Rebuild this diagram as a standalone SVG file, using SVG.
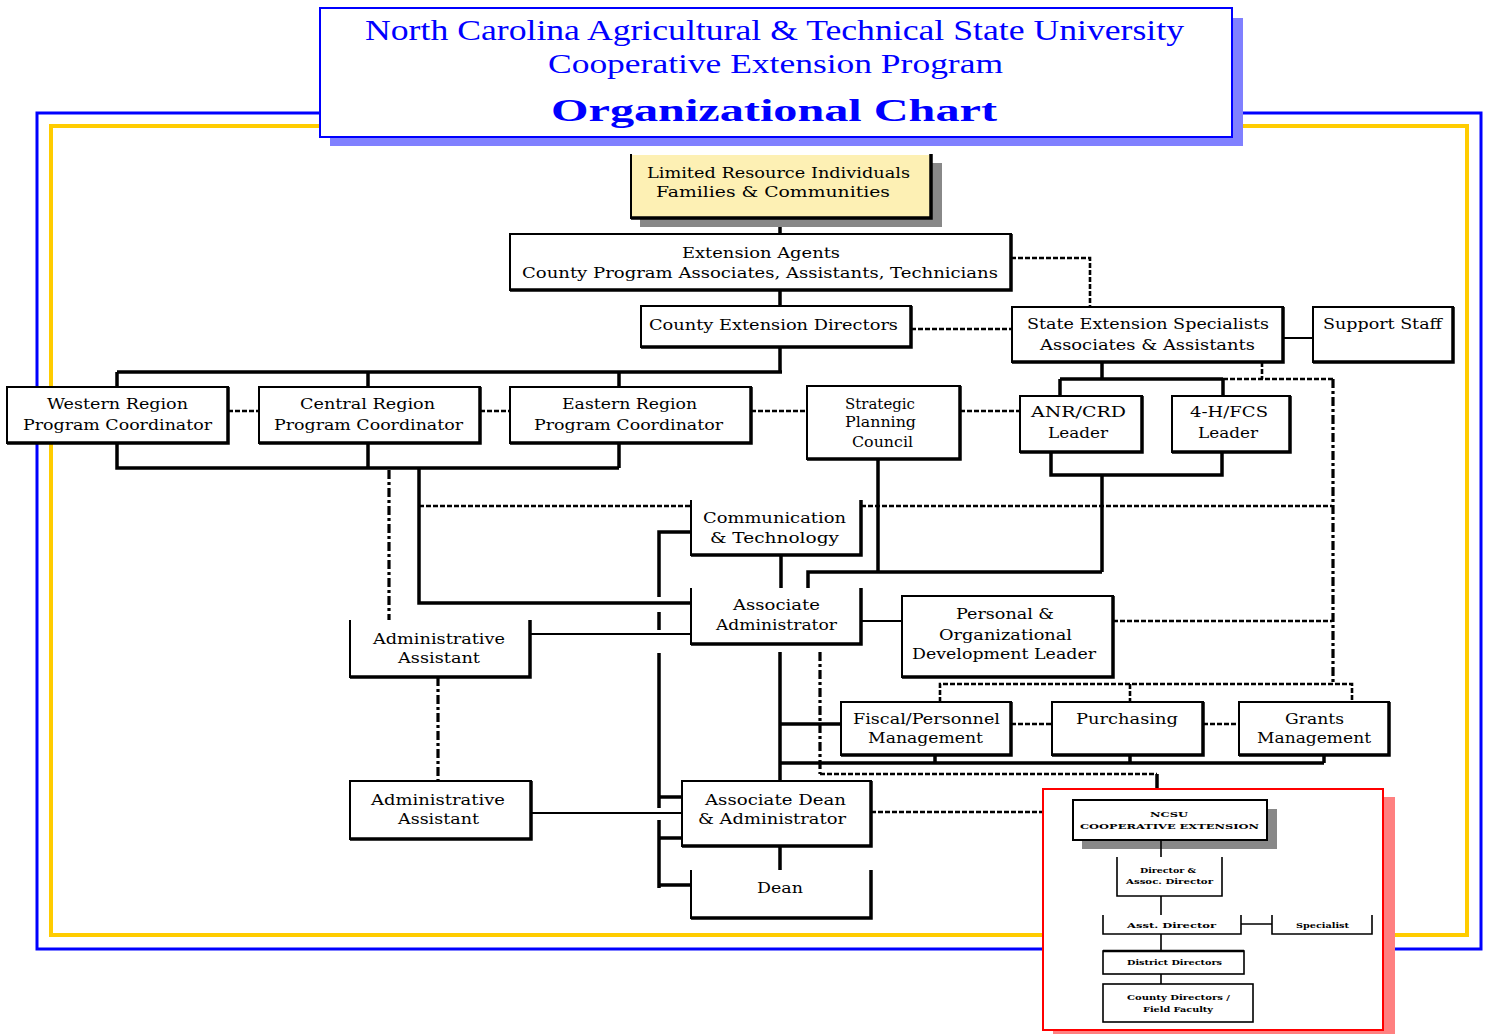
<svg xmlns="http://www.w3.org/2000/svg" width="1489" height="1034" viewBox="0 0 1489 1034">
<style>
.b{fill:#fff;stroke:#000;stroke-width:2}
.w{fill:#fff;stroke:none}
.e{fill:none;stroke:#000;stroke-width:2}
.bs{fill:none;stroke:#000;stroke-width:3.5}
.s{fill:none;stroke:#000;stroke-width:3.5}
.t{fill:none;stroke:#000;stroke-width:2.2}
.d{fill:none;stroke:#000;stroke-width:2.6;stroke-dasharray:5 2}
.dd{fill:none;stroke:#000;stroke-width:3.2;stroke-dasharray:9 3 3 3}
.tx{font-family:"DejaVu Serif","Liberation Serif",serif;font-size:15px;fill:#000}
.ttl{font-family:"Liberation Serif","Times New Roman",serif;fill:#0000FF}
.it{font-family:"DejaVu Serif","Liberation Serif",serif;font-size:8px;font-weight:bold;fill:#000}
.ie{fill:none;stroke:#000;stroke-width:1.6}
</style>
<rect width="1489" height="1034" fill="#fff"/>
<g id="frames">
<rect x="37" y="113" width="1444" height="836" fill="none" stroke="#0000FF" stroke-width="3"/>
<rect x="51" y="126" width="1416" height="809" fill="none" stroke="#FFCC00" stroke-width="4"/>
</g>
<g id="title">
<rect x="330" y="18" width="913" height="128" fill="#8080FF"/>
<rect x="320" y="8" width="912" height="129" fill="#fff" stroke="#0000FF" stroke-width="2"/>
<text class="ttl" x="365" y="40" font-size="30" textLength="819" lengthAdjust="spacingAndGlyphs">North Carolina Agricultural &amp; Technical State University</text>
<text class="ttl" x="548" y="73" font-size="28" textLength="455" lengthAdjust="spacingAndGlyphs">Cooperative Extension Program</text>
<text class="ttl" x="551" y="121" font-size="31" font-weight="bold" textLength="446" lengthAdjust="spacingAndGlyphs">Organizational Chart</text>
</g>
<g id="connectors">
<path class="s" d="M780 218V234M780 290V306M780 347V372M117 372H782M117 372V387M368 372V387M619 372V387"/>
<path class="s" d="M117 443V468H619M368 443V468M619 443V468"/>
<path class="s" d="M419 468V603H691"/>
<path class="s" d="M878 459V572M808 588V572H1102M1102 362V379M1060 379H1223M1060 379V396M1223 379V396"/>
<path class="s" d="M1051 452V475H1222V452M1102 475V572"/>
<path class="s" d="M781 555V588"/>
<path class="s" d="M691 532H659V597M659 612V630M659 653V808M659 820V888M659 797H682M659 838H682M659 885H691"/>
<path class="s" d="M780 652V781M780 724H841M780 763H1324M935 755V763M1130 755V763M1324 755V763M780 846V870"/>
<path class="s" d="M1157 774V789"/>
<path class="t" d="M1283 338H1313M530 634H691M531 813H682M861 621H902"/>
<path class="d" d="M1011 258H1090V307M911 329H1012M228 411H259M480 411H510M751 411H807M960 411H1020"/>
<path class="d" d="M1262 362V379M1223 379H1333M419 506H691M861 506H1332M1113 621H1332"/>
<path class="d" d="M940 702V684H1352V702M1130 684V702M1011 724H1052M1203 724H1239M871 812H1043M820 774H1157"/>
<path class="dd" d="M1333 379V684M389 470V620M438 677V781M820 652V774"/>
</g>
<g id="limited-resource">
<rect x="640" y="163" width="302" height="64" fill="#888"/>
<rect x="631" y="155" width="300" height="63" fill="#FDF0B4"/>
<path class="e" d="M631 154V218H931V154"/>
<path class="bs" d="M931 154V218H631"/>
<text class="tx" x="647" y="178" textLength="263" lengthAdjust="spacingAndGlyphs">Limited Resource Individuals</text>
<text class="tx" x="656" y="197" textLength="234" lengthAdjust="spacingAndGlyphs">Families &amp; Communities</text>
</g>
<g id="extension-agents">
<rect class="b" x="510" y="234" width="501" height="56"/>
<path class="bs" d="M1011 234V290H510"/>
<text class="tx" x="682" y="258" textLength="158" lengthAdjust="spacingAndGlyphs">Extension Agents</text>
<text class="tx" x="522" y="278" textLength="476" lengthAdjust="spacingAndGlyphs">County Program  Associates, Assistants, Technicians</text>
</g>
<g id="county-directors">
<rect class="b" x="641" y="306" width="270" height="41"/>
<path class="bs" d="M911 306V347H641"/>
<text class="tx" x="649" y="330" textLength="249" lengthAdjust="spacingAndGlyphs">County Extension Directors</text>
</g>
<g id="state-specialists">
<rect class="b" x="1012" y="307" width="271" height="55"/>
<path class="bs" d="M1283 307V362H1012"/>
<text class="tx" x="1027" y="329" textLength="242" lengthAdjust="spacingAndGlyphs">State Extension Specialists</text>
<text class="tx" x="1040" y="350" textLength="215" lengthAdjust="spacingAndGlyphs">Associates &amp; Assistants</text>
</g>
<g id="support-staff">
<rect class="b" x="1313" y="307" width="140" height="55"/>
<path class="bs" d="M1453 307V362H1313"/>
<text class="tx" x="1323" y="329" textLength="119" lengthAdjust="spacingAndGlyphs">Support Staff</text>
</g>
<g id="western-region">
<rect class="b" x="7" y="387" width="221" height="56"/>
<path class="bs" d="M228 387V443H7"/>
<text class="tx" x="47" y="409" textLength="141" lengthAdjust="spacingAndGlyphs">Western Region</text>
<text class="tx" x="23" y="430" textLength="189" lengthAdjust="spacingAndGlyphs">Program Coordinator</text>
</g>
<g id="central-region">
<rect class="b" x="259" y="387" width="221" height="56"/>
<path class="bs" d="M480 387V443H259"/>
<text class="tx" x="300" y="409" textLength="135" lengthAdjust="spacingAndGlyphs">Central Region</text>
<text class="tx" x="274" y="430" textLength="189" lengthAdjust="spacingAndGlyphs">Program Coordinator</text>
</g>
<g id="eastern-region">
<rect class="b" x="510" y="387" width="241" height="56"/>
<path class="bs" d="M751 387V443H510"/>
<text class="tx" x="562" y="409" textLength="135" lengthAdjust="spacingAndGlyphs">Eastern Region</text>
<text class="tx" x="534" y="430" textLength="189" lengthAdjust="spacingAndGlyphs">Program Coordinator</text>
</g>
<g id="strategic-planning">
<rect class="b" x="807" y="386" width="153" height="73"/>
<path class="bs" d="M960 386V459H807"/>
<text class="tx" x="845" y="409" textLength="70" lengthAdjust="spacingAndGlyphs">Strategic</text>
<text class="tx" x="845" y="427" textLength="71" lengthAdjust="spacingAndGlyphs">Planning</text>
<text class="tx" x="852" y="447" textLength="61" lengthAdjust="spacingAndGlyphs">Council</text>
</g>
<g id="anr-crd">
<rect class="b" x="1020" y="396" width="122" height="56"/>
<path class="bs" d="M1142 396V452H1020"/>
<text class="tx" x="1031" y="417" textLength="95" lengthAdjust="spacingAndGlyphs">ANR/CRD</text>
<text class="tx" x="1048" y="438" textLength="60" lengthAdjust="spacingAndGlyphs">Leader</text>
</g>
<g id="fourh-fcs">
<rect class="b" x="1172" y="396" width="118" height="56"/>
<path class="bs" d="M1290 396V452H1172"/>
<text class="tx" x="1190" y="417" textLength="78" lengthAdjust="spacingAndGlyphs">4-H/FCS</text>
<text class="tx" x="1198" y="438" textLength="60" lengthAdjust="spacingAndGlyphs">Leader</text>
</g>
<g id="communication-technology">
<rect class="w" x="691" y="500" width="170" height="55"/>
<path class="e" d="M691 500V555H861V500"/>
<path class="bs" d="M861 500V555H691"/>
<text class="tx" x="703" y="523" textLength="143" lengthAdjust="spacingAndGlyphs">Communication</text>
<text class="tx" x="710" y="543" textLength="129" lengthAdjust="spacingAndGlyphs">&amp; Technology</text>
</g>
<g id="associate-administrator">
<rect class="w" x="691" y="588" width="170" height="56"/>
<path class="e" d="M691 588V644H861V588"/>
<path class="bs" d="M861 588V644H691"/>
<text class="tx" x="733" y="610" textLength="87" lengthAdjust="spacingAndGlyphs">Associate</text>
<text class="tx" x="716" y="630" textLength="121" lengthAdjust="spacingAndGlyphs">Administrator</text>
</g>
<g id="administrative-assistant-1">
<rect class="w" x="350" y="620" width="180" height="57"/>
<path class="e" d="M350 620V677H530V620"/>
<path class="bs" d="M530 620V677H350"/>
<text class="tx" x="373" y="644" textLength="132" lengthAdjust="spacingAndGlyphs">Administrative</text>
<text class="tx" x="398" y="663" textLength="82" lengthAdjust="spacingAndGlyphs">Assistant</text>
</g>
<g id="personal-organizational">
<rect class="b" x="902" y="596" width="211" height="81"/>
<path class="bs" d="M1113 596V677H902"/>
<text class="tx" x="956" y="619" textLength="98" lengthAdjust="spacingAndGlyphs">Personal &amp;</text>
<text class="tx" x="939" y="640" textLength="133" lengthAdjust="spacingAndGlyphs">Organizational</text>
<text class="tx" x="912" y="659" textLength="184" lengthAdjust="spacingAndGlyphs">Development Leader</text>
</g>
<g id="fiscal-personnel">
<rect class="b" x="841" y="702" width="170" height="53"/>
<path class="bs" d="M1011 702V755H841"/>
<text class="tx" x="853" y="724" textLength="147" lengthAdjust="spacingAndGlyphs">Fiscal/Personnel</text>
<text class="tx" x="868" y="743" textLength="115" lengthAdjust="spacingAndGlyphs">Management</text>
</g>
<g id="purchasing">
<rect class="b" x="1052" y="702" width="151" height="53"/>
<path class="bs" d="M1203 702V755H1052"/>
<text class="tx" x="1076" y="724" textLength="102" lengthAdjust="spacingAndGlyphs">Purchasing</text>
</g>
<g id="grants-management">
<rect class="b" x="1239" y="702" width="150" height="53"/>
<path class="bs" d="M1389 702V755H1239"/>
<text class="tx" x="1285" y="724" textLength="59" lengthAdjust="spacingAndGlyphs">Grants</text>
<text class="tx" x="1257" y="743" textLength="114" lengthAdjust="spacingAndGlyphs">Management</text>
</g>
<g id="administrative-assistant-2">
<rect class="b" x="350" y="781" width="181" height="58"/>
<path class="bs" d="M531 781V839H350"/>
<text class="tx" x="371" y="805" textLength="134" lengthAdjust="spacingAndGlyphs">Administrative</text>
<text class="tx" x="398" y="824" textLength="81" lengthAdjust="spacingAndGlyphs">Assistant</text>
</g>
<g id="associate-dean">
<rect class="b" x="682" y="781" width="189" height="65"/>
<path class="bs" d="M871 781V846H682"/>
<text class="tx" x="705" y="805" textLength="141" lengthAdjust="spacingAndGlyphs">Associate Dean</text>
<text class="tx" x="698" y="824" textLength="148" lengthAdjust="spacingAndGlyphs">&amp; Administrator</text>
</g>
<g id="dean">
<rect class="w" x="691" y="870" width="180" height="48"/>
<path class="e" d="M691 870V918H871V870"/>
<path class="bs" d="M871 870V918H691"/>
<text class="tx" x="757" y="893" textLength="46" lengthAdjust="spacingAndGlyphs">Dean</text>
</g>
<g id="ncsu-inset">
<rect x="1053" y="797" width="342" height="240" fill="#FF8080"/>
<rect x="1043" y="789" width="340" height="241" fill="#fff" stroke="#FF0000" stroke-width="2"/>
<g id="ncsu-cooperative-extension">
<rect x="1082" y="809" width="195" height="40" fill="#888"/>
<rect x="1073" y="800" width="194" height="40" fill="#fff" stroke="#000" stroke-width="2"/>
<text class="it" x="1150" y="817" textLength="38" lengthAdjust="spacingAndGlyphs">NCSU</text>
<text class="it" x="1080" y="829" textLength="179" lengthAdjust="spacingAndGlyphs">COOPERATIVE EXTENSION</text>
</g>
<g id="inset-connectors">
<path class="ie" d="M1161 840V857M1161 896V915M1161 934V951M1161 974V984M1241 924H1272"/>
</g>
<g id="director-assoc-director">
<path class="ie" d="M1117 857V896H1222V857"/>
<text class="it" x="1140" y="873" textLength="56" lengthAdjust="spacingAndGlyphs">Director &amp;</text>
<text class="it" x="1126" y="884" textLength="87" lengthAdjust="spacingAndGlyphs">Assoc. Director</text>
</g>
<g id="asst-director">
<path class="ie" d="M1103 915V934H1241V915"/>
<text class="it" x="1127" y="928" textLength="89" lengthAdjust="spacingAndGlyphs">Asst. Director</text>
</g>
<g id="specialist">
<path class="ie" d="M1272 915V934H1372V915"/>
<text class="it" x="1296" y="928" textLength="53" lengthAdjust="spacingAndGlyphs">Specialist</text>
</g>
<g id="district-directors">
<rect x="1103" y="951" width="141" height="23" fill="#fff" stroke="#000" stroke-width="1.6"/>
<path d="M1103 951H1244" stroke="#000" stroke-width="2.6"/>
<text class="it" x="1127" y="965" textLength="95" lengthAdjust="spacingAndGlyphs">District Directors</text>
</g>
<g id="county-directors-field-faculty">
<rect x="1103" y="984" width="150" height="38" fill="#fff" stroke="#000" stroke-width="1.6"/>
<text class="it" x="1127" y="1000" textLength="103" lengthAdjust="spacingAndGlyphs">County Directors /</text>
<text class="it" x="1143" y="1012" textLength="70" lengthAdjust="spacingAndGlyphs">Field Faculty</text>
</g>
</g>
</svg>
